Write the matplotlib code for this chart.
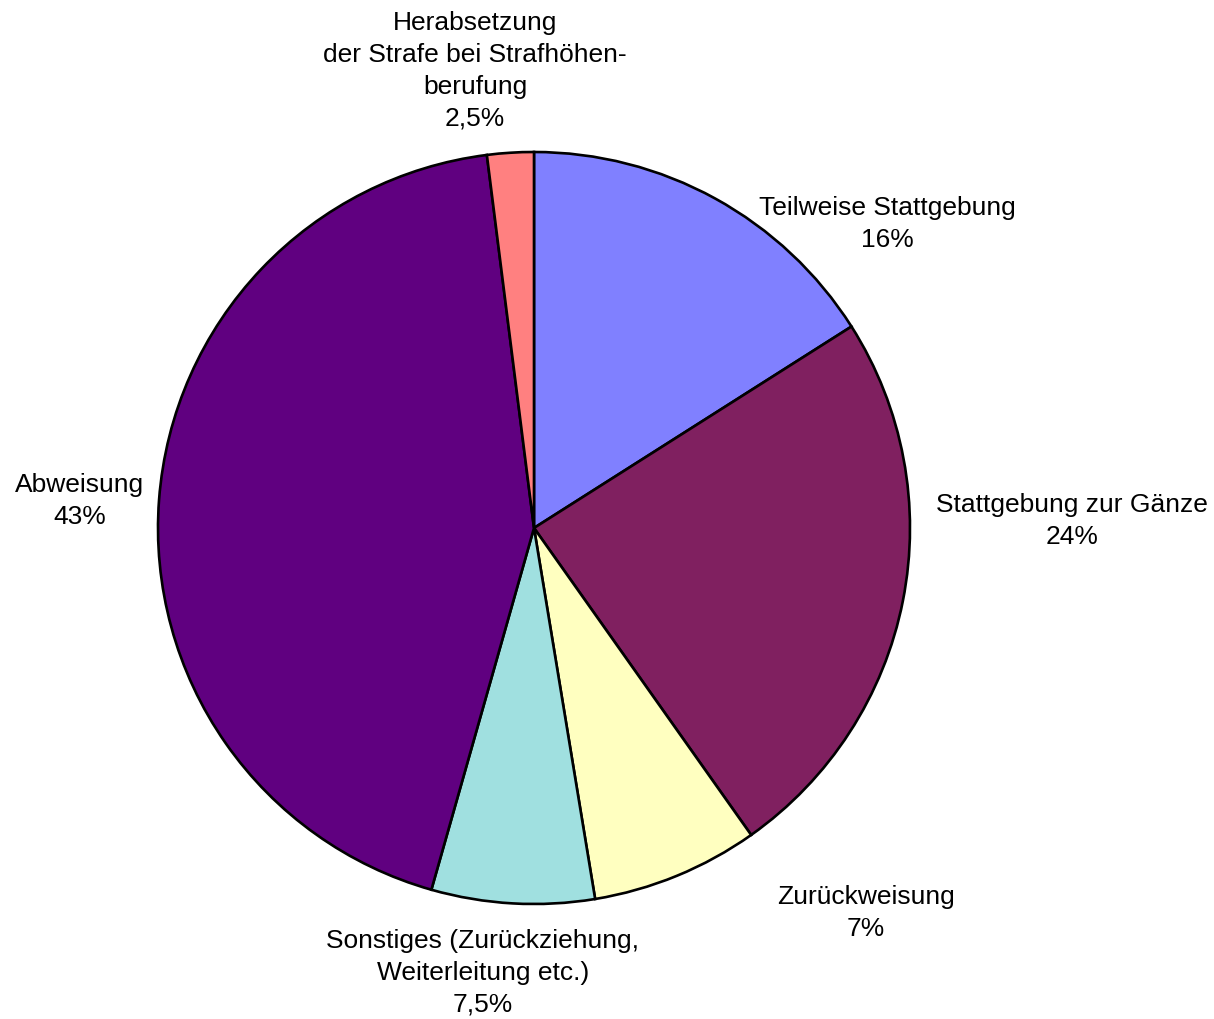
import matplotlib.pyplot as plt

plt.rcParams['font.family'] = ['Liberation Sans', 'DejaVu Sans']

labels = ["Teilweise Stattgebung", "Stattgebung zur Gänze", "Zurückweisung",
          "Sonstiges (Zurückziehung,\nWeiterleitung etc.)", "Abweisung",
          "Herabsetzung\nder Strafe bei Strafhöhen-\nberufung"]
# slice sizes
values = [16, 24.2, 7.2, 7.0, 43.6, 2.0]
pct_text = ["16%", "24%", "7%", "7,5%", "43%", "2,5%"]
colors = ["#8080FF", "#802060", "#FFFFC0", "#A0E0E0", "#600080", "#FF8080"]

# label centres in pixel coords (y measured from the top)
label_pos = [(887, 224), (1072, 521), (866, 913), (483, 973), (80, 501), (475, 71)]

W, H = 1214, 1020
fig = plt.figure(figsize=(W / 100, H / 100), dpi=100)
ax = fig.add_axes([0, 0, 1, 1])

ax.pie(values, colors=colors, startangle=90, counterclock=False,
       center=(534, H - 529), radius=376, frame=True,
       wedgeprops=dict(edgecolor="black", linewidth=1.9))
ax.set_xlim(0, W)
ax.set_ylim(0, H)
ax.set_aspect("equal")
ax.axis("off")

for lab, p, (x, y) in zip(labels, pct_text, label_pos):
    ax.text(x, H - y, lab + "\n" + p, ha="center", va="center",
            fontsize=19, linespacing=1.42)

fig.savefig("out.png", dpi=100)
